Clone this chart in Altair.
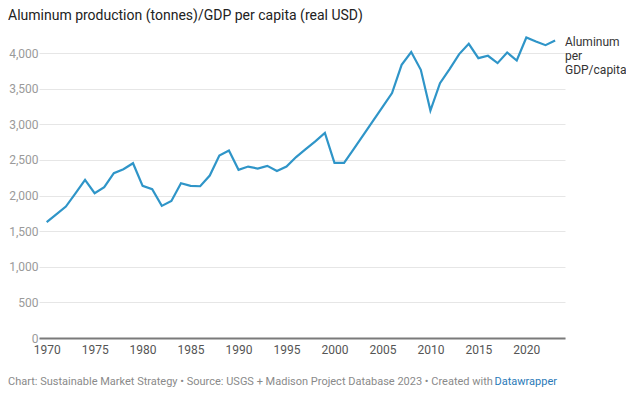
import altair as alt
import pandas as pd

years = list(range(1970, 2024))
values = [1625, 1735, 1845, 2030, 2219, 2032, 2116, 2313, 2369, 2453,
          2135, 2088, 1854, 1924, 2173, 2135, 2130, 2280, 2560, 2630,
          2360, 2406, 2378, 2416, 2345, 2406, 2540, 2650, 2760, 2878,
          2458, 2458, 2650, 2847, 3044, 3240, 3437, 3834, 4013, 3764,
          3193, 3577, 3774, 3985, 4129, 3928, 3961, 3858, 4007, 3895,
          4218, 4162, 4110, 4176]
x_ticks = [1970, 1975, 1980, 1985, 1990, 1995, 2000, 2005, 2010, 2015, 2020]
y_ticks = [0, 500, 1000, 1500, 2000, 2500, 3000, 3500, 4000]

title_text = "Aluminum production (tonnes)/GDP per capita (real USD)"
footer_text = "Chart: Sustainable Market Strategy  \u2022 Source: USGS + Madison Project Database 2023 \u2022 Created with"
footer_link = "Datawrapper"
line_label = ["Aluminum", "per", "GDP/capita"]

df = pd.DataFrame({"Year": years, "Value": values})

FONT = "Roboto"
W, H = 526, 285

line = alt.Chart(df).mark_line(color="#2f95c8", strokeWidth=2.2).encode(
    x=alt.X("Year:Q",
            scale=alt.Scale(domain=[1969.2, 2024.03], nice=False, zero=False),
            axis=alt.Axis(values=x_ticks, format="d", title=None, grid=False,
                          ticks=False, domain=True, domainColor="#7a7a7a",
                          domainWidth=2, labelColor="#555555", labelFontSize=12,
                          labelFont=FONT, labelPadding=6, labelFlush=False)),
    y=alt.Y("Value:Q",
            scale=alt.Scale(domain=[0, 4000], nice=False),
            axis=alt.Axis(values=y_ticks, format=",.0f", title=None, grid=True,
                          gridColor="#e6e6e6", gridWidth=1, ticks=False,
                          domain=False, labelColor="#9a9a9a", labelFontSize=12,
                          labelFont=FONT, labelPadding=1)),
)

one = alt.Data(values=[{"k": 1}])

title = alt.Chart(one).mark_text(
    align="left", baseline="middle", font=FONT, fontSize=14, color="#222222"
).encode(x=alt.value(-31), y=alt.value(-37), text=alt.value(title_text))

label = alt.Chart(one).mark_text(
    align="left", baseline="top", font=FONT, fontSize=12, color="#333333",
    lineHeight=14
).encode(x=alt.value(526), y=alt.value(-16.5), text=alt.value(line_label))

footer = alt.Chart(one).mark_text(
    align="left", baseline="alphabetic", font=FONT, fontSize=11, color="#8a8a8a"
).encode(x=alt.value(-31), y=alt.value(332), text=alt.value(footer_text))

link = alt.Chart(one).mark_text(
    align="left", baseline="alphabetic", font=FONT, fontSize=11, color="#2a7ab8"
).encode(x=alt.value(455.5), y=alt.value(332), text=alt.value(footer_link))

chart = alt.layer(line, title, label, footer, link).properties(
    width=W, height=H,
    autosize="none",
    padding={"left": 31, "top": 45, "right": 61, "bottom": 50},
).configure_view(stroke=None)

chart.save("out.html", embed_options={"renderer": "svg", "actions": False})
